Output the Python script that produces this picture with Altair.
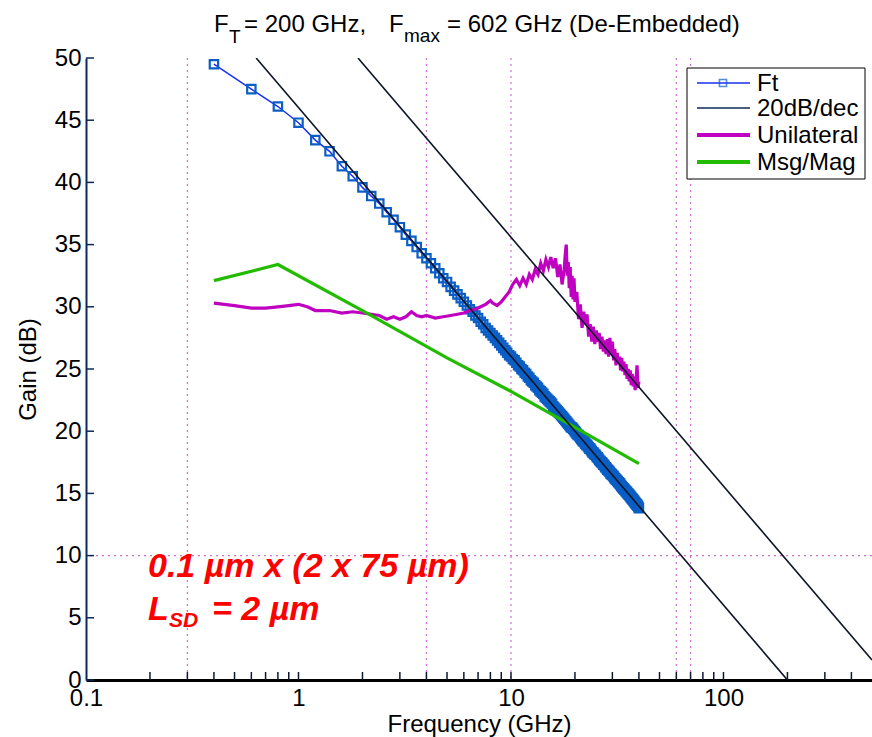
import altair as alt
import pandas as pd

# ---------------- data ----------------
ft_freq = [0.4, 0.6, 0.8, 1.0, 1.2, 1.4, 1.6, 1.8, 2.0, 2.2, 2.4, 2.6, 2.8, 3.0,
           3.2, 3.4, 3.6, 3.8, 4.0, 4.2, 4.4, 4.6, 4.8, 5.0, 5.2, 5.4, 5.6, 5.8,
           6.0, 6.2, 6.4, 6.6, 6.8, 7.0, 7.2, 7.4, 7.6, 7.8, 8.0, 8.2, 8.4, 8.6,
           8.8, 9.0, 9.2, 9.4, 9.6, 9.8, 10.0,
           10.2, 10.4, 10.6, 10.8, 11.0, 11.2, 11.4, 11.6, 11.8, 12.0,
           12.2, 12.4, 12.6, 12.8, 13.0, 13.2, 13.4, 13.6, 13.8, 14.0,
           14.2, 14.4, 14.6, 14.8, 15.0, 15.2, 15.4, 15.6, 15.8, 16.0,
           16.2, 16.4, 16.6, 16.8, 17.0, 17.2, 17.4, 17.6, 17.8, 18.0,
           18.2, 18.4, 18.6, 18.8, 19.0, 19.2, 19.4, 19.6, 19.8, 20.0,
           20.2, 20.4, 20.6, 20.8, 21.0, 21.2, 21.4, 21.6, 21.8, 22.0,
           22.2, 22.4, 22.6, 22.8, 23.0, 23.2, 23.4, 23.6, 23.8, 24.0,
           24.2, 24.4, 24.6, 24.8, 25.0, 25.2, 25.4, 25.6, 25.8, 26.0,
           26.2, 26.4, 26.6, 26.8, 27.0, 27.2, 27.4, 27.6, 27.8, 28.0,
           28.2, 28.4, 28.6, 28.8, 29.0, 29.2, 29.4, 29.6, 29.8, 30.0,
           30.2, 30.4, 30.6, 30.8, 31.0, 31.2, 31.4, 31.6, 31.8, 32.0,
           32.2, 32.4, 32.6, 32.8, 33.0, 33.2, 33.4, 33.6, 33.8, 34.0,
           34.2, 34.4, 34.6, 34.8, 35.0, 35.2, 35.4, 35.6, 35.8, 36.0,
           36.2, 36.4, 36.6, 36.8, 37.0, 37.2, 37.4, 37.6, 37.8, 38.0,
           38.2, 38.4, 38.6, 38.8, 39.0, 39.2, 39.4, 39.6, 39.8, 40.0]
ft_gain = [49.5, 47.5, 46.1, 44.8, 43.4, 42.5, 41.3, 40.5, 39.6, 38.9, 38.3, 37.6,
           37.0, 36.4, 35.8, 35.3, 34.8, 34.3, 33.9, 33.5, 33.1, 32.7, 32.3, 32.0,
           31.6, 31.3, 31.0, 30.7, 30.4, 30.1, 29.8, 29.6, 29.3, 29.1, 28.8, 28.6,
           28.3, 28.1, 27.9, 27.7, 27.5, 27.3, 27.1, 26.9, 26.7, 26.5, 26.3, 26.1,
           26.0,
           25.8, 25.7, 25.5, 25.3, 25.2, 25.0, 24.9, 24.7, 24.6, 24.4,
           24.3, 24.1, 24.0, 23.9, 23.7, 23.6, 23.5, 23.3, 23.2, 23.1,
           23.0, 22.8, 22.7, 22.6, 22.5, 22.4, 22.3, 22.2, 22.0, 21.9,
           21.8, 21.7, 21.6, 21.5, 21.4, 21.3, 21.2, 21.1, 21.0, 20.9,
           20.8, 20.7, 20.6, 20.5, 20.4, 20.3, 20.3, 20.2, 20.1, 20.0,
           19.9, 19.8, 19.7, 19.7, 19.6, 19.5, 19.4, 19.3, 19.2, 19.2,
           19.1, 19.0, 18.9, 18.9, 18.8, 18.7, 18.6, 18.6, 18.5, 18.4,
           18.3, 18.3, 18.2, 18.1, 18.1, 18.0, 17.9, 17.9, 17.8, 17.7,
           17.6, 17.6, 17.5, 17.5, 17.4, 17.3, 17.3, 17.2, 17.1, 17.1,
           17.0, 16.9, 16.9, 16.8, 16.8, 16.7, 16.6, 16.6, 16.5, 16.5,
           16.4, 16.4, 16.3, 16.2, 16.2, 16.1, 16.1, 16.0, 16.0, 15.9,
           15.9, 15.8, 15.8, 15.7, 15.6, 15.6, 15.5, 15.5, 15.4, 15.4,
           15.3, 15.3, 15.2, 15.2, 15.1, 15.1, 15.0, 15.0, 14.9, 14.9,
           14.8, 14.8, 14.7, 14.7, 14.6, 14.6, 14.5, 14.5, 14.4, 14.4,
           14.3, 14.3, 14.2, 14.2, 14.1, 14.1, 14.0, 14.0, 13.9, 13.8]

uni_freq = [0.4, 0.5, 0.6, 0.7, 0.8, 0.9, 1.0, 1.1, 1.2, 1.4, 1.6, 1.8, 2.0, 2.2,
            2.4, 2.6, 2.8, 3.0, 3.2, 3.4, 3.6, 3.8, 4.0, 4.4, 4.8, 5.2, 5.6, 6.0,
            6.4, 6.8, 7.0, 7.2, 7.6, 8.0, 8.2, 8.6, 9.0, 9.4, 9.8, 10.2, 10.6, 11.0,
            11.4, 11.8, 12.2, 12.6, 13.0, 13.4, 13.8, 14.2, 14.6, 15.0, 15.4, 15.8,
            16.2, 16.6, 17.0, 17.4, 17.8, 18.0, 18.2, 18.4, 18.6, 18.8, 19.0, 19.2,
            19.4, 19.6, 19.8, 20.0, 20.4, 20.8, 21.2, 21.6, 22.0, 22.4, 22.8, 23.2,
            23.6, 24.0, 24.4, 24.8, 25.2, 25.6, 26.0, 26.4, 26.8, 27.2, 27.6, 28.0,
            28.4, 28.8, 29.2, 29.6, 30.0, 30.4, 30.8, 31.2, 31.6, 32.0, 32.4, 32.8,
            33.2, 33.6, 34.0, 34.4, 34.8, 35.2, 35.6, 36.0, 36.4, 36.8, 37.2, 37.6,
            38.0, 38.4, 38.8, 39.2, 39.6, 40.0]
uni_gain = [30.3, 30.1, 29.9, 29.9, 30.0, 30.1, 30.2, 30.0, 29.7, 29.7, 29.5, 29.6, 29.5, 29.4,
            29.3, 29.0, 29.2, 29.0, 29.2, 29.6, 29.3, 29.2, 29.3, 29.1, 29.2, 29.3, 29.4, 29.5,
            29.7, 29.8, 29.9, 30.0, 30.2, 30.5, 30.3, 30.1, 30.4, 30.8, 31.2, 31.8, 32.2, 31.7,
            32.3, 31.8, 32.6, 32.2, 33.0, 32.6, 33.5, 32.9, 33.8, 33.2, 34.0, 33.1,
            33.9, 32.4, 33.4, 31.8, 33.0, 34.2, 35.0, 32.5, 33.6, 31.5, 33.2, 30.8,
            32.5, 30.6, 32.3, 30.4, 31.2, 29.0, 30.2, 28.3, 29.6, 28.6, 29.4, 27.6,
            28.6, 27.2, 28.4, 27.0, 28.1, 27.2, 27.9, 26.6, 27.6, 26.4, 27.3, 26.2,
            27.4, 26.0, 27.5, 26.2, 27.2, 25.7, 26.6, 25.3, 26.3, 25.4, 26.0, 24.9,
            25.9, 24.8, 25.6, 24.5, 25.4, 24.2, 25.0, 24.0, 24.9, 23.7, 24.6, 23.6,
            24.4, 23.3, 24.2, 25.3, 23.5, 24.0]

msg_freq = [0.4, 0.8, 2.0, 5.0, 10.0, 20.0, 40.0]
msg_gain = [32.1, 33.4, 29.7, 25.9, 23.2, 20.3, 17.4]

# 20 dB/dec asymptotes (end points)
slope_ft_freq = [0.632, 200.0]
slope_ft_gain = [50.0, 0.0]
slope_fmax_freq = [1.905, 500.0]
slope_fmax_gain = [50.0, 1.6]

# dotted marker lines
vgrid_freq = [0.3, 4, 10, 60, 70]
hgrid_gain = [10]

# axes
x_label_vals = [0.1, 1, 10, 100]
x_tick_vals = [0.2, 0.3, 0.4, 0.5, 0.6, 0.7, 0.8, 0.9, 1, 2, 3, 4, 5, 6, 7, 8, 9,
               10, 20, 30, 40, 50, 60, 70, 80, 90, 100, 200, 300, 400]
y_tick_vals = [0, 5, 10, 15, 20, 25, 30, 35, 40, 45, 50]

legend_labels = ["Ft", "20dB/dec", "Unilateral", "Msg/Mag"]

# ---------------- chart ----------------
W, H = 786, 622
FONT = "Liberation Sans"
NAVY = "#0b2a5a"
BLUE_LINE = "#1a30f0"
BLUE_MK = "#0b5ec4"
MAGENTA = "#c000c0"
GREEN = "#22bb00"
BLACK_LINE = "#0d1526"
GRID = "#d070d0"

xs = alt.Scale(type="log", domain=[0.1, 500])
ys = alt.Scale(domain=[0, 50])

x_axis = alt.Axis(values=x_label_vals, format="~g", labelFontSize=24, labelFont=FONT,
                  labelColor="black", ticks=False, domainColor="black", domainWidth=3,
                  grid=False, title="Frequency (GHz)", titleFontSize=24, titleFont=FONT,
                  titleFontWeight="normal", titleColor="black", titlePadding=2,
                  labelPadding=6, labelFlush=False, labelOverlap=False)
y_axis = alt.Axis(values=y_tick_vals, labelFontSize=24, labelFont=FONT,
                  labelColor="black", ticks=False, domainColor=NAVY, domainWidth=2,
                  grid=False, title="Gain (dB)", titleFontSize=24, titleFont=FONT,
                  titleFontWeight="normal", titleColor="black", titlePadding=14,
                  labelPadding=5, labelFlush=False, labelOverlap=False)


def X():
    return alt.X("f:Q", scale=xs, axis=x_axis)


def Y():
    return alt.Y("g:Q", scale=ys, axis=y_axis)


def df(f, g):
    return pd.DataFrame({"f": f, "g": g})


one = pd.DataFrame({"k": [0]})

vgrid = alt.Chart(pd.DataFrame({"f": vgrid_freq})).mark_rule(
    color=GRID, strokeDash=[2, 4], strokeWidth=1.2).encode(x=X())
hgrid = alt.Chart(pd.DataFrame({"g": hgrid_gain})).mark_rule(
    color=GRID, strokeDash=[2, 4], strokeWidth=1.2).encode(y=Y())

x_ticks = alt.Chart(pd.DataFrame({"f": x_tick_vals})).mark_rule(
    color="#101830", strokeWidth=1.5).encode(
    x=X(), y=alt.value(H), y2=alt.value(H - 8))
y_ticks = alt.Chart(pd.DataFrame({"g": y_tick_vals})).mark_rule(
    color=NAVY, strokeWidth=1.5).encode(
    y=Y(), x=alt.value(0), x2=alt.value(8))


def line(f, g, color, width):
    return alt.Chart(df(f, g)).mark_line(color=color, strokeWidth=width, clip=True).encode(
        x=X(), y=Y())


ft_line = line(ft_freq, ft_gain, BLUE_LINE, 1.5)
ft_pts = alt.Chart(df(ft_freq, ft_gain)).mark_point(
    shape="square", filled=False, color=BLUE_MK, size=70, strokeWidth=2.2, opacity=1).encode(
    x=X(), y=Y())
uni_line = line(uni_freq, uni_gain, MAGENTA, 3.2)
msg_line = line(msg_freq, msg_gain, GREEN, 3.2)
slope1 = line(slope_ft_freq, slope_ft_gain, BLACK_LINE, 1.6)
slope2 = line(slope_fmax_freq, slope_fmax_gain, BLACK_LINE, 1.6)


def txt(s, x, y, size=24, color="black", weight="normal", style="normal"):
    return alt.Chart(one).mark_text(
        text=s, font=FONT, fontSize=size, color=color, fontWeight=weight,
        fontStyle=style, align="left", baseline="alphabetic").encode(
        x=alt.value(x), y=alt.value(y))


# title with subscripts
title_layers = [
    txt("F", 128, -26),
    txt("T", 143, -15, size=19),
    txt("= 200 GHz,", 158, -26),
    txt("F", 303, -26),
    txt("max", 318, -16, size=19),
    txt("= 602 GHz (De-Embedded)", 361, -26),
]

# legend
lg_box = alt.Chart(one).mark_rect(fill="white", stroke="black", strokeWidth=1).encode(
    x=alt.value(601), x2=alt.value(779), y=alt.value(10), y2=alt.value(121))
rows = [25, 50, 77, 104]
lg_layers = [lg_box]
lg_styles = [(BLUE_LINE, 1.5), (NAVY, 1.6), (MAGENTA, 4), (GREEN, 4)]
for lab, yy, (c, w) in zip(legend_labels, rows, lg_styles):
    lg_layers.append(alt.Chart(one).mark_rule(color=c, strokeWidth=w).encode(
        x=alt.value(611), x2=alt.value(664), y=alt.value(yy)))
    lg_layers.append(txt(lab, 671, yy + 8))
lg_layers.append(alt.Chart(one).mark_point(
    shape="square", filled=False, color=BLUE_MK, size=50, strokeWidth=1.6).encode(
    x=alt.value(637), y=alt.value(rows[0])))

# red annotation
RED = "#ff0000"
note_layers = [
    txt("0.1 \u00b5m x (2 x 75 \u00b5m)", 62, 519, size=34, color=RED, weight="bold", style="italic"),
    txt("L", 62, 562, size=34, color=RED, weight="bold", style="italic"),
    txt("SD", 83, 569, size=21, color=RED, weight="bold", style="italic"),
    txt("= 2 \u00b5m", 126, 562, size=34, color=RED, weight="bold", style="italic"),
]

chart = alt.layer(
    vgrid, hgrid, ft_line, ft_pts, uni_line, msg_line, slope1, slope2,
    x_ticks, y_ticks, *title_layers, *lg_layers, *note_layers,
).properties(
    width=W, height=H,
    autosize=alt.AutoSizeParams(type="none"),
    padding={"left": 86, "top": 58, "right": 0, "bottom": 57},
    background="white",
).configure_view(stroke=None)

chart.save("out.html", embed_options={"renderer": "svg", "actions": False})
